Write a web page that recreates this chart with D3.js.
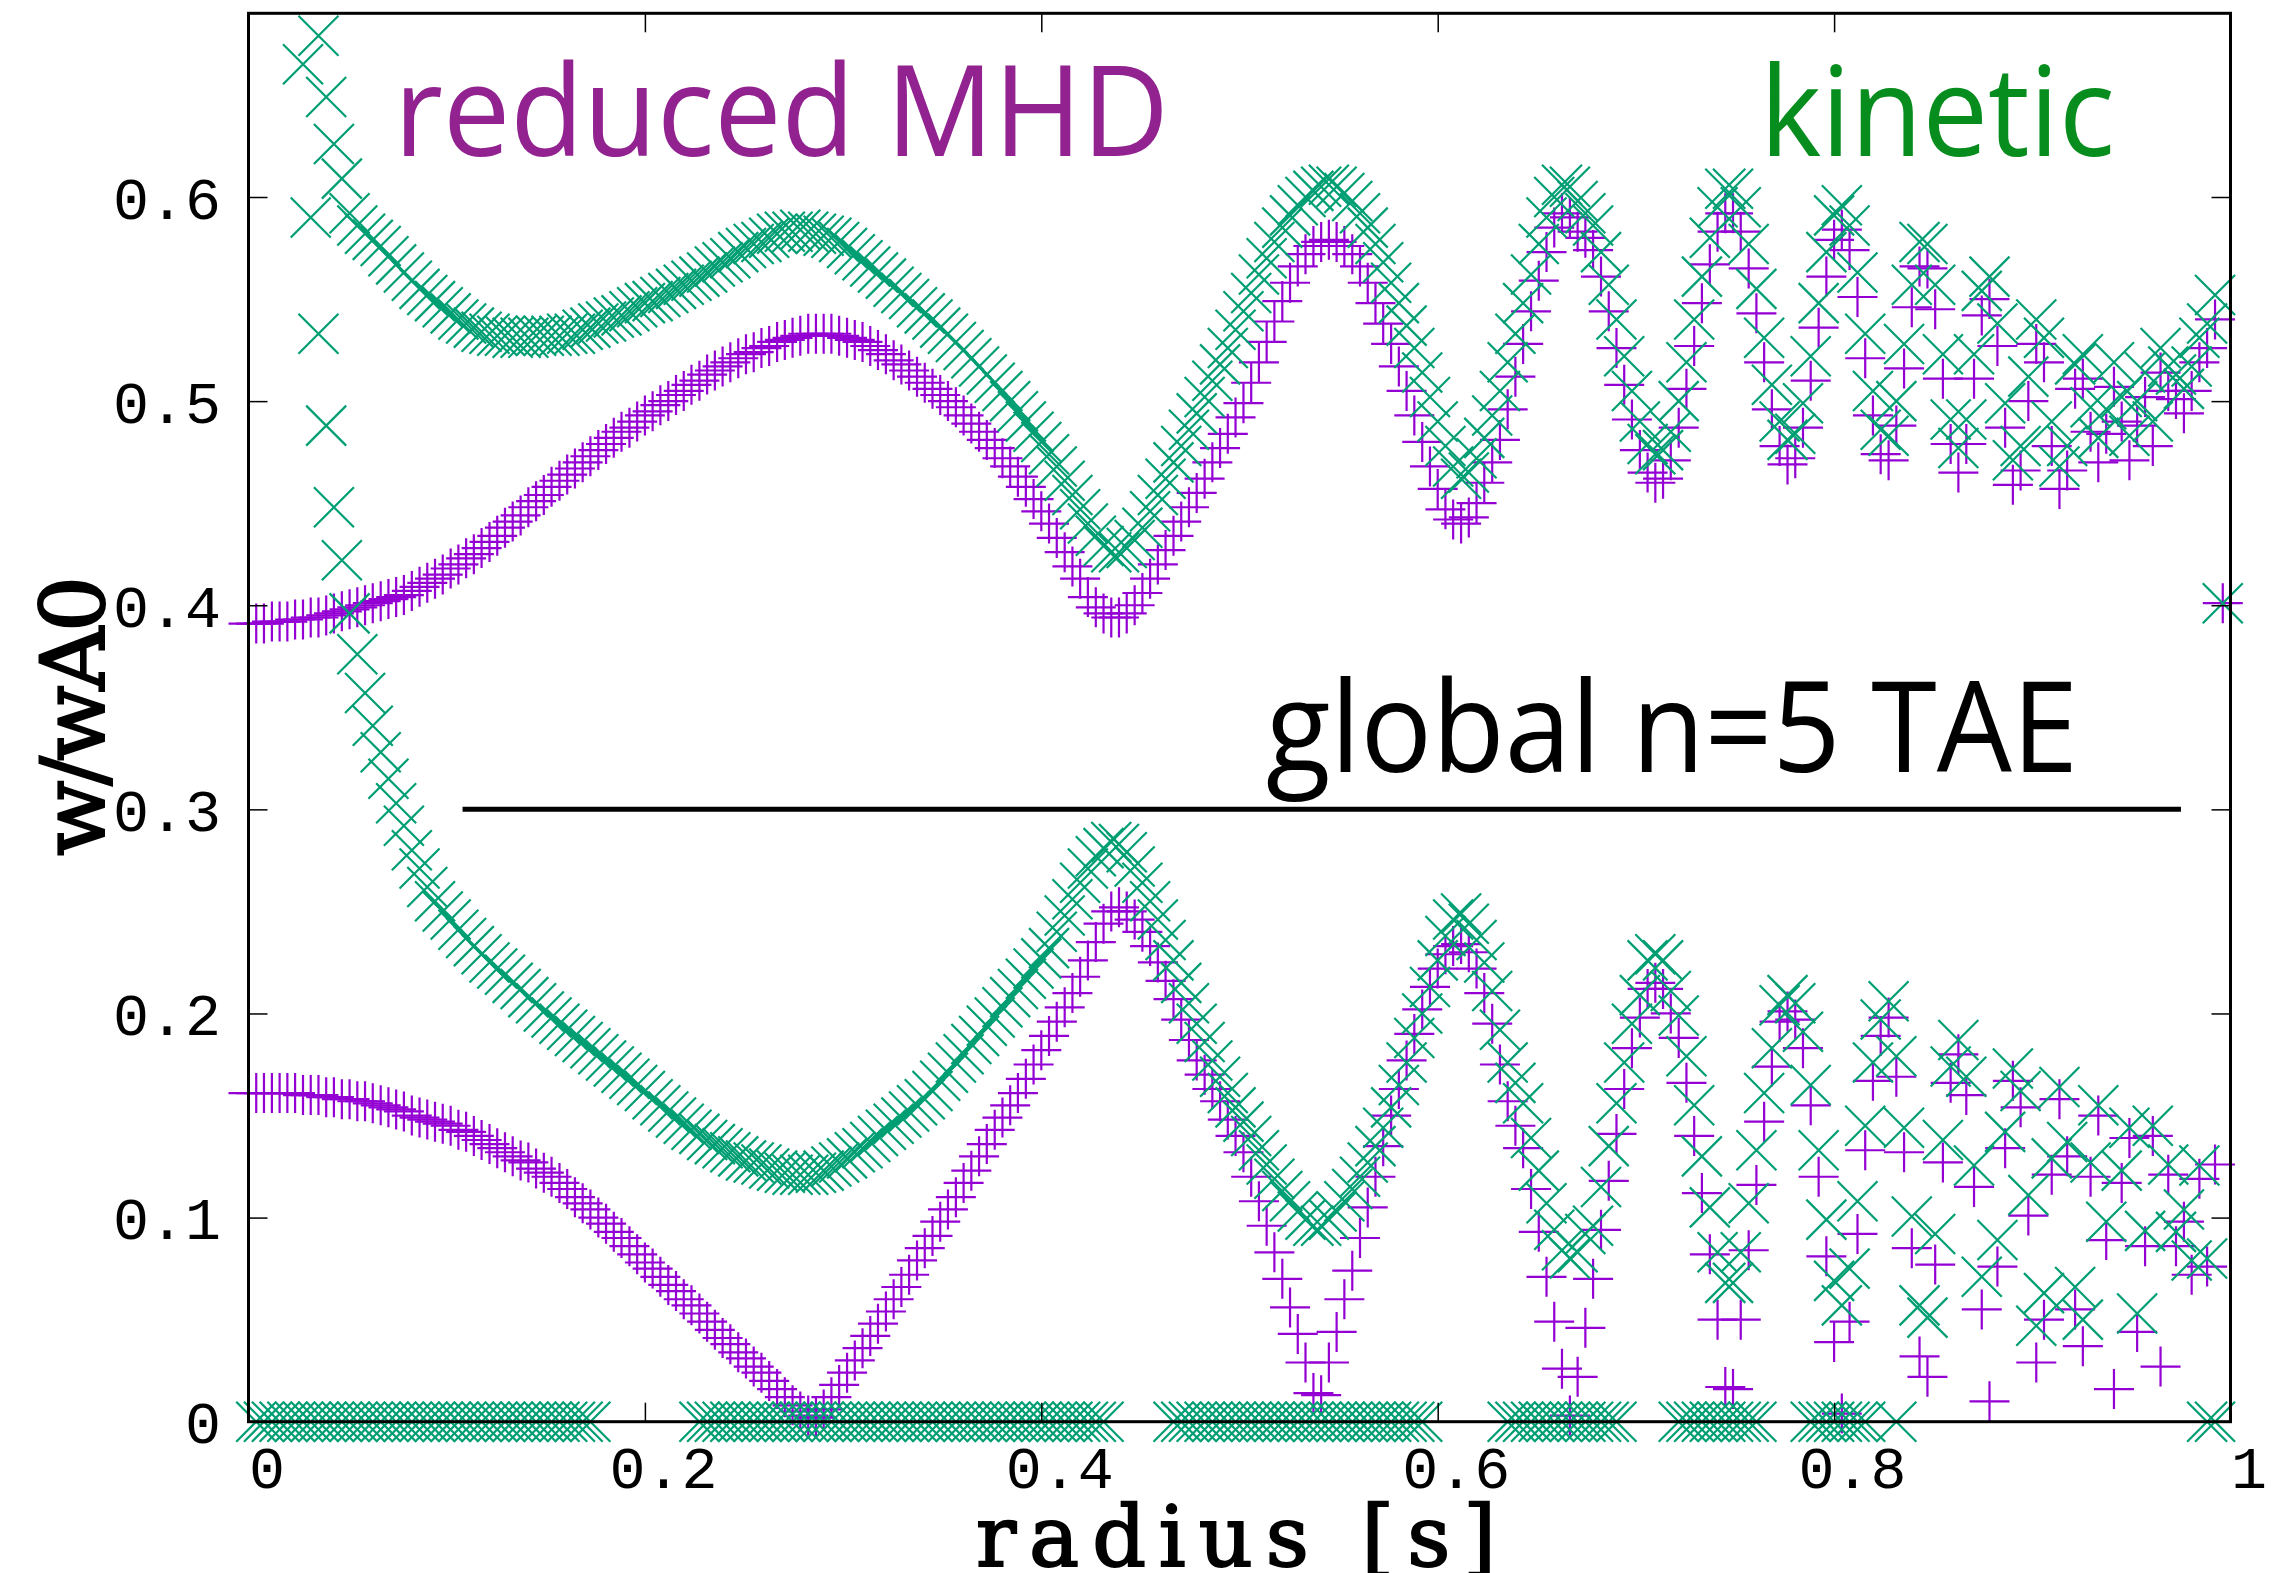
<!DOCTYPE html>
<html>
<head>
<meta charset="utf-8">
<script src="https://cdn.jsdelivr.net/npm/d3@7"></script>
<style>
  html, body { margin: 0; padding: 0; background: #fff; }
  svg { display: block; }
</style>
</head>
<body>
<svg id="chart" width="2279" height="1573"></svg>
<script>
// Radial grid shared by both continuum calculations
const radius = [
  0,.0039,.0078,.0118,.0157,.0196,.0235,.0275,.0314,.0353,
  .0392,.0431,.0471,.0510,.0549,.0588,.0627,.0667,.0706,.0745,
  .0784,.0824,.0863,.0902,.0941,.0980,.1020,.1059,.1098,.1137,
  .1176,.1216,.1255,.1294,.1333,.1373,.1412,.1451,.1490,.1529,
  .1569,.1608,.1647,.1686,.1725,.1765,.1804,.1843,.1882,.1922,
  .1961,.2000,.2039,.2078,.2118,.2157,.2196,.2235,.2275,.2314,
  .2353,.2392,.2431,.2471,.2510,.2549,.2588,.2627,.2667,.2706,
  .2745,.2784,.2824,.2863,.2902,.2941,.2980,.3020,.3059,.3098,
  .3137,.3176,.3216,.3255,.3294,.3333,.3373,.3412,.3451,.3490,
  .3529,.3569,.3608,.3647,.3686,.3725,.3765,.3804,.3843,.3882,
  .3922,.3961,.4000,.4039,.4078,.4118,.4157,.4196,.4235,.4275,
  .4314,.4353,.4392,.4431,.4471,.4510,.4549,.4588,.4627,.4667,
  .4706,.4745,.4784,.4824,.4863,.4902,.4941,.4980,.5020,.5059,
  .5098,.5137,.5176,.5216,.5255,.5294,.5333,.5373,.5412,.5451,
  .5490,.5529,.5569,.5608,.5647,.5686,.5725,.5765,.5804,.5843,
  .5882,.5922,.5961,.6000,.6039,.6078,.6118,.6157,.6196,.6235,
  .6275,.6314,.6353,.6392,.6431,.6471,.6510,.6549,.6588,.6627,
  .6667,.6706,.6745,.6784,.6824,.6863,.6902,.6941,.6980,.7020,
  .7059,.7098,.7137,.7176,.7216,.7255,.7294,.7333,.7373,.7412,
  .7451,.7490,.7529,.7569,.7608,.7647,.7686,.7725,.7765,.7804,
  .7843,.7882,.7922,.7961,.8000,.8039,.8078,.8118,.8157,.8196,
  .8235,.8275,.8314,.8353,.8392,.8431,.8471,.8510,.8549,.8588,
  .8627,.8667,.8706,.8745,.8784,.8824,.8863,.8902,.8941,.8980,
  .9020,.9059,.9098,.9137,.9176,.9216,.9255,.9294,.9333,.9373,
  .9412,.9451,.9490,.9529,.9569,.9608,.9647,.9686,.9725,.9765,
  .9804,.9843,.9882,.9922,.9961,1.0000
];

// reduced MHD continuum, upper branch (w/wA0 per grid point)
const mhdUpper = [
  .391,.391,.391,.392,.392,.392,.393,.393,.394,.394,
  .395,.396,.397,.398,.399,.400,.401,.402,.403,.404,
  .405,.407,.409,.411,.413,.415,.418,.420,.423,.425,
  .428,.431,.434,.438,.441,.444,.448,.451,.454,.458,
  .461,.464,.467,.470,.473,.476,.479,.482,.485,.487,
  .490,.493,.495,.498,.500,.503,.505,.508,.510,.513,
  .515,.517,.519,.521,.523,.524,.526,.527,.529,.530,
  .531,.532,.533,.533,.533,.533,.532,.531,.530,.529,
  .527,.525,.523,.520,.518,.515,.512,.509,.506,.503,
  .500,.497,.493,.489,.485,.481,.477,.472,.468,.463,
  .458,.452,.446,.440,.433,.426,.419,.413,.404,.399,
  .396,.394,.394,.396,.400,.406,.413,.420,.427,.434,
  .441,.448,.455,.462,.470,.477,.484,.492,.499,.509,
  .519,.529,.539,.549,.558,.566,.572,.576,.578,.579,
  .578,.576,.572,.566,.558,.548,.538,.528,.517,.505,
  .493,.480,.468,.457,.447,.442,.440,.443,.450,.460,
  .470,.481,.496,.512,.528,.544,.559,.573,.585,.592,
  .590,.583,.580,.574,.561,.544,.526,.508,.491,.476,
  .465,.460,.462,.471,.487,.506,.527,.548,.567,.583,
  .592,.592,.583,.565,.543,.519,.496,.478,.469,.472,
  .487,.510,.536,.561,.579,.584,.574,.551,.521,.493,
  .474,.471,.488,.516,.546,.566,.565,.545,.511,.479,
  .465,.479,.511,.542,.550,.527,.487,.459,.466,.500,
  .528,.519,.478,.457,.466,.506,.511,.485,.470,.484,
  .507,.490,.471,.488,.502,.478,.514,.505,.501,.494,
  .505,.519,.526,.540,.401,null
];

// reduced MHD continuum, lower branch
const mhdLower = [
  .161,.161,.161,.161,.161,.161,.161,.160,.160,.160,
  .159,.159,.158,.158,.157,.157,.156,.155,.154,.153,
  .152,.150,.149,.148,.147,.146,.145,.143,.142,.140,
  .138,.136,.134,.132,.130,.128,.127,.124,.122,.120,
  .117,.114,.110,.107,.104,.100,.097,.093,.090,.086,
  .082,.078,.075,.071,.067,.064,.060,.057,.053,.049,
  .045,.041,.038,.034,.031,.027,.024,.020,.016,.012,
  .008,.005,.003,.002,.006,.012,.018,.024,.030,.036,
  .042,.048,.054,.060,.066,.072,.079,.085,.091,.098,
  .104,.110,.117,.123,.130,.136,.143,.149,.155,.161,
  .168,.175,.182,.189,.196,.203,.210,.218,.226,.235,
  .244,.250,.252,.250,.246,.240,.233,.225,.216,.207,
  .197,.187,.177,.170,.163,.157,.148,.140,.132,.120,
  .108,.096,.083,.070,.056,.043,.029,.014,.013,.029,
  .044,.060,.074,.090,.105,.120,.135,.150,.163,.177,
  .190,.202,.213,.222,.229,.233,.234,.230,.222,.210,
  .195,.175,.157,.145,.134,.114,.093,.071,.049,.026,
  .003,.022,.046,.070,.094,.118,.141,.163,.183,.198,
  .212,.215,.212,.200,.188,.166,.140,.112,.082,.050,
  .017,.016,.050,.084,.116,.147,.174,.196,.201,.197,
  .183,.155,.120,.081,.039,.004,.049,.092,.133,.167,
  .189,.198,.169,.132,.085,.032,.022,.077,.127,.166,
  .180,.160,.115,.055,.010,.076,.134,.167,.154,.101,
  .029,.050,.121,.158,.130,.055,.037,.120,.150,.089,
  .016,.117,.139,.044,.086,.140,.027,.121,.086,.098,
  .072,.119,.076,.126,null,null
];

// kinetic continuum, upper branch
const kineticUpper = [
  null,null,null,null,null,null,null,.665,null,.679,
  .649,.626,.609,.592,.586,.582,.579,.576,.571,.567,
  .563,.559,.555,.552,.549,.546,.543,.540,.538,.536,
  .534,.533,.532,.532,.531,.531,.531,.532,.532,.532,
  .532,.533,.533,.535,.536,.538,.539,.541,.542,.544,
  .546,.548,.549,.551,.553,.555,.557,.559,.561,.563,
  .566,.568,.570,.573,.575,.577,.578,.580,.582,.583,
  .583,.584,.583,.582,.581,.580,.578,.575,.572,.569,
  .566,.563,.560,.556,.553,.550,.546,.543,.540,.536,
  .533,.529,.525,.521,.517,.513,.509,.505,.500,.495,
  .490,.485,.480,.474,.468,.461,.454,.447,.440,.434,
  .429,.426,.426,.428,.432,.438,.446,.454,.462,.470,
  .478,.486,.494,.502,.510,.518,.526,.535,.544,.553,
  .562,.570,.578,.585,.591,.596,.600,.603,.605,.606,
  .605,.602,.598,.592,.585,.577,.568,.558,.548,.537,
  .526,.514,.502,.490,.478,.468,.462,.465,.472,.482,
  .493,.505,.519,.533,.548,.562,.577,.590,.600,.606,
  .605,.598,.592,.586,.573,.557,.540,.522,.505,.490,
  .479,.474,.476,.485,.500,.519,.540,.561,.580,.595,
  .604,.604,.595,.577,.555,.531,.508,.490,.481,.484,
  .499,.522,.548,.573,.591,.596,.586,.563,.533,.505,
  .486,.483,.500,.528,.557,.578,.577,.557,.523,.491,
  .477,.491,.523,.554,.561,.538,.499,.471,.478,.512,
  .540,.531,.490,.468,.478,.518,.523,.497,.482,.496,
  .519,.502,.483,.500,.514,.490,.526,.517,.513,.506,
  .517,.531,.538,.552,.401,null
];

// kinetic continuum, lower branch
const kineticLower = [
  null,null,null,null,null,null,null,null,.590,.533,
  .488,.448,.422,.396,.376,.357,.341,.328,.315,.303,
  .292,.280,.271,.262,.255,.250,.246,.241,.237,.233,
  .229,.225,.222,.219,.215,.212,.208,.205,.201,.198,
  .195,.192,.189,.186,.183,.180,.177,.174,.171,.168,
  .165,.162,.158,.155,.152,.149,.146,.143,.141,.138,
  .136,.134,.132,.130,.128,.127,.126,.124,.123,.122,
  .121,.121,.121,.122,.123,.125,.127,.129,.132,.134,
  .137,.140,.143,.146,.149,.152,.155,.158,.162,.167,
  .171,.176,.180,.185,.189,.194,.198,.203,.208,.212,
  .217,.222,.227,.232,.240,.248,.256,.264,.271,.277,
  .281,.284,.283,.279,.272,.264,.255,.246,.236,.226,
  .215,.205,.195,.186,.177,.169,.161,.154,.147,.140,
  .133,.126,.119,.113,.108,.103,.099,.096,.096,.099,
  .103,.108,.114,.120,.127,.135,.144,.154,.165,.176,
  .188,.200,.213,.226,.238,.246,.249,.244,.236,.225,
  .211,.192,.176,.166,.156,.139,.123,.107,.094,.084,
  .080,.083,.092,.096,.115,.135,.156,.176,.195,.209,
  .226,.229,.226,.211,.199,.179,.155,.130,.105,.083,
  .068,.068,.083,.107,.133,.161,.183,.204,.209,.205,
  .191,.165,.133,.099,.069,.057,.075,.108,.145,.176,
  .197,.206,.179,.144,.1005,.057,.051,.092,.138,.174,
  .187,.169,.1255,.071,null,.089,.142,.173,.162,.111,
  .047,.063,.129,.164,.137,.066,.050,.127,.155,.098,
  null,.123,.144,.053,.0935,.145,null,.126,.093,.104,
  .079,.1255,.080,null,null,null
];

// grid-index runs where the kinetic solver returns w = 0
const kineticZeroRuns = [[1,44],[58,110],[119,151],[162,176],[184,194],[201,208],[212,212],[252,253]];

const xTicks = [0, 0.2, 0.4, 0.6, 0.8, 1];
const xTickLabels = ["0", "0.2", "0.4", "0.6", "0.8", "1"];
const yTicks = [0, 0.1, 0.2, 0.3, 0.4, 0.5, 0.6];
const yTickLabels = ["0", "0.1", "0.2", "0.3", "0.4", "0.5", "0.6"];

const taeFrequency = 0.3;
const taeExtent = [0.108, 0.975];

// ---- layout ----
const svg = d3.select("#chart");
svg.append("rect").attr("width", 2279).attr("height", 1573).attr("fill", "#fff");

const plotL = 248.5, plotR = 2230.5, plotT = 13.3, plotB = 1421.7;
const x = d3.scaleLinear().domain([0, 1]).range([plotL, plotR]);
const y = d3.scaleLinear().domain([0, 0.69]).range([plotB, plotT]);

const tickFont = "'Liberation Mono', 'DejaVu Sans Mono', monospace";
const titleFont = "'DejaVu Serif', 'Liberation Serif', serif";
const annoFont = "'Open Sans', 'Noto Sans', sans-serif";

// ---- markers ----
const purple = "#9400d3", green = "#009e73";
const plusPath = "M-20,0H20M0,-20V20";
const crossPath = "M-20,-20L20,20M-20,20L20,-20";

function branchPoints(values) {
  const pts = [];
  values.forEach((w, i) => { if (w != null && i < radius.length) pts.push({ r: radius[i], w }); });
  return pts;
}

const mhdPoints = branchPoints(mhdUpper).concat(branchPoints(mhdLower));
const zeroPoints = [];
kineticZeroRuns.forEach(([a, b]) => { for (let i = a; i <= b; i++) zeroPoints.push({ r: radius[i], w: 0 }); });
const kineticPoints = branchPoints(kineticUpper).concat(branchPoints(kineticLower)).concat(zeroPoints);

const gM = svg.append("g").attr("class", "mhd");
gM.selectAll("path").data(mhdPoints).join("path")
  .attr("d", plusPath)
  .attr("transform", d => `translate(${x(d.r)},${y(d.w)})`)
  .attr("fill", "none").attr("stroke", purple).attr("stroke-width", 2.2);

const gK = svg.append("g").attr("class", "kinetic");
gK.selectAll("path").data(kineticPoints).join("path")
  .attr("d", crossPath)
  .attr("transform", d => `translate(${x(d.r)},${y(d.w)})`)
  .attr("fill", "none").attr("stroke", green).attr("stroke-width", 2.2);

// ---- axes (inward ticks on all four sides) ----
const axB = svg.append("g").attr("transform", `translate(0,${plotB})`)
  .call(d3.axisBottom(x).tickValues(xTicks).tickSize(-19).tickFormat((d, i) => xTickLabels[i]));
axB.selectAll("text").attr("y", 66.3).attr("dy", 0).attr("dx", 18);
const axL = svg.append("g").attr("transform", `translate(${plotL},0)`)
  .call(d3.axisLeft(y).tickValues(yTicks).tickSize(-19).tickPadding(27.5).tickFormat((d, i) => yTickLabels[i]));
axL.selectAll("text").attr("dy", 21);
svg.append("g").attr("transform", `translate(0,${plotT})`)
  .call(d3.axisTop(x).tickValues(xTicks).tickSize(-19).tickFormat(""));
svg.append("g").attr("transform", `translate(${plotR},0)`)
  .call(d3.axisRight(y).tickValues(yTicks).tickSize(-19).tickFormat(""));

svg.selectAll(".domain").remove();
svg.selectAll(".tick line").attr("stroke", "#000").attr("stroke-width", 1.5);
svg.selectAll(".tick text").attr("font-family", tickFont).attr("font-size", 60).attr("fill", "#000");

svg.append("rect")
  .attr("x", plotL).attr("y", plotT)
  .attr("width", plotR - plotL).attr("height", plotB - plotT)
  .attr("fill", "none").attr("stroke", "#000").attr("stroke-width", 3);

// ---- axis titles (serif, monospaced look) ----
svg.append("text")
  .attr("x", 1236).attr("y", 1566)
  .attr("text-anchor", "middle")
  .attr("font-family", titleFont).attr("font-size", 84)
  .attr("fill", "#000").attr("stroke", "#000").attr("stroke-width", 2)
  .attr("textLength", 520).attr("lengthAdjust", "spacing")
  .text("radius [s]");

svg.append("text")
  .attr("transform", "translate(104,716) rotate(-90)")
  .attr("text-anchor", "middle")
  .attr("font-family", titleFont).attr("font-size", 88)
  .attr("fill", "#000").attr("stroke", "#000").attr("stroke-width", 2)
  .attr("textLength", 280).attr("lengthAdjust", "spacing")
  .text("w/wA0");

// ---- annotations ----
svg.append("text")
  .attr("x", 394).attr("y", 156)
  .attr("font-family", annoFont).attr("font-size", 127).attr("fill", "#912290")
  .attr("textLength", 775).attr("lengthAdjust", "spacingAndGlyphs")
  .text("reduced MHD");

svg.append("text")
  .attr("x", 1760).attr("y", 156)
  .attr("font-family", annoFont).attr("font-size", 125).attr("fill", "#078c1e")
  .attr("textLength", 355).attr("lengthAdjust", "spacingAndGlyphs")
  .text("kinetic");

svg.append("text")
  .attr("x", 1266).attr("y", 772)
  .attr("font-family", annoFont).attr("font-size", 126).attr("fill", "#000")
  .attr("textLength", 812).attr("lengthAdjust", "spacingAndGlyphs")
  .text("global n=5 TAE");

svg.append("line")
  .attr("x1", x(taeExtent[0])).attr("x2", x(taeExtent[1]))
  .attr("y1", y(taeFrequency)).attr("y2", y(taeFrequency))
  .attr("stroke", "#000").attr("stroke-width", 5);
</script>
</body>
</html>
